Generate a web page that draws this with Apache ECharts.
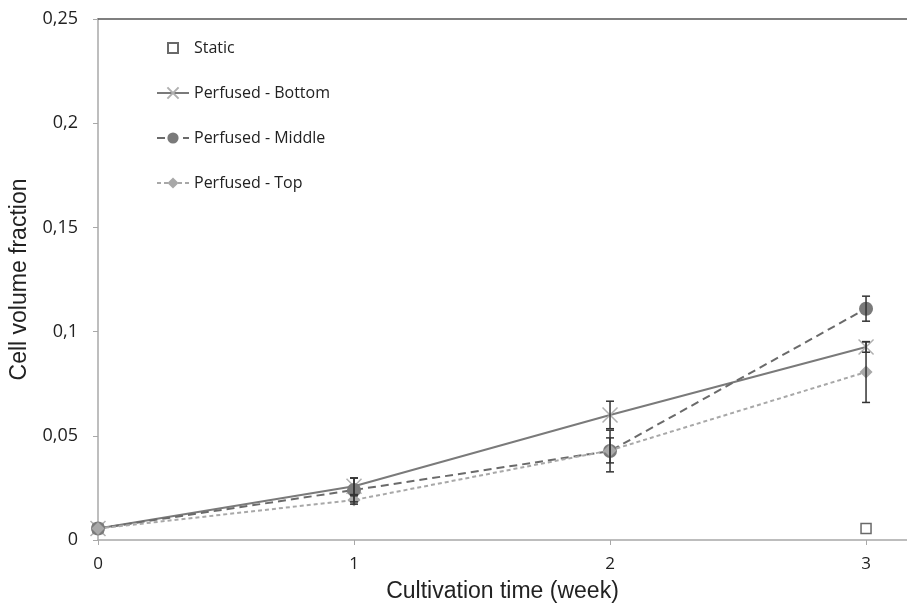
<!DOCTYPE html>
<html>
<head>
<meta charset="utf-8">
<script src="https://cdn.jsdelivr.net/npm/echarts@6/dist/echarts.min.js"></script>
<style>
  html, body { margin: 0; padding: 0; background: #fff; }
  #main { width: 907px; height: 604px; }
</style>
</head>
<body>
<div id="main"></div>
<script>
var weeks = [0, 1, 2, 3];
var staticWeeks = [0, 3];
var staticVals = [0.0055, 0.0055];
var bottomVals = [0.0055, 0.0258, 0.0600, 0.0926];
var bottomErr = [0, 0.004, 0.0066, 0.0025];
var middleVals = [0.0055, 0.0240, 0.0427, 0.1110];
var middleErr = [0, 0.0057, 0.0100, 0.0060];
var topVals = [0.0055, 0.0192, 0.0430, 0.0806];
var topErr = [0, 0.002, 0.0060, 0.0146];

function pairs(xs, ys) {
  return xs.map(function (x, i) { return [x, ys[i]]; });
}
function errData(vals, errs) {
  var out = [];
  for (var i = 0; i < vals.length; i++) {
    if (errs[i] > 0) out.push([weeks[i], vals[i] - errs[i], vals[i] + errs[i]]);
  }
  return out;
}
var allErr = errData(bottomVals, bottomErr)
  .concat(errData(middleVals, middleErr))
  .concat(errData(topVals, topErr));

function comma(v) {
  return String(v).replace('.', ',');
}

var chartDom = document.getElementById('main');
var myChart = echarts.init(chartDom);
var option;

// square icon centred in a 32x14 box (moves only widen the bounds)
var staticIcon = 'path://M0,0M32,0M32,14M0,14M11,2L21,2L21,12L11,12Z';

option = {
  backgroundColor: '#fff',
  animation: false,
  textStyle: { fontFamily: 'Open Sans, DejaVu Sans, sans-serif' },
  grid: { left: 98, right: 0, top: 19, bottom: 64, containLabel: false, outerBoundsMode: 'none' },
  legend: {
    orient: 'vertical',
    left: 151,
    top: 35,
    itemWidth: 32,
    itemHeight: 14,
    itemGap: 29,
    textStyle: { fontSize: 16, color: '#222', fontFamily: 'Open Sans, sans-serif' },
    data: [
      { name: 'Static', icon: staticIcon },
      'Perfused - Bottom',
      'Perfused - Middle',
      'Perfused - Top'
    ]
  },
  xAxis: [{
    type: 'value',
    min: 0,
    max: 3.16,
    interval: 1,
    name: 'Cultivation time (week)',
    nameLocation: 'middle',
    nameGap: 40,
    nameTextStyle: { fontSize: 23, color: '#222', fontFamily: 'Liberation Sans, Arial, sans-serif' },
    axisLine: { lineStyle: { color: '#a8a8a8', width: 1.5 } },
    axisTick: { show: true, length: 5, lineStyle: { color: '#a8a8a8' } },
    axisLabel: {
      fontSize: 17, color: '#222', margin: 16,
      formatter: function (v) { return Math.abs(v - Math.round(v)) < 1e-6 ? String(Math.round(v)) : ''; }
    },
    splitLine: { show: false }
  }, {
    type: 'value',
    position: 'top',
    min: 0,
    max: 3.16,
    axisLine: { show: true, lineStyle: { color: '#555', width: 1.5 } },
    axisTick: { show: false },
    axisLabel: { show: false },
    splitLine: { show: false }
  }],
  yAxis: {
    type: 'value',
    min: 0,
    max: 0.25,
    interval: 0.05,
    name: 'Cell volume fraction',
    nameLocation: 'middle',
    nameGap: 66,
    nameTextStyle: { fontSize: 23, color: '#222', fontFamily: 'Liberation Sans, Arial, sans-serif' },
    axisLine: { show: true, lineStyle: { color: '#a8a8a8', width: 1.5 } },
    axisTick: { show: true, length: 5, lineStyle: { color: '#a8a8a8' } },
    axisLabel: { fontSize: 18, color: '#222', margin: 20, formatter: function (v) { return comma(+v.toFixed(2)); } },
    splitLine: { show: false }
  },
  series: [
    {
      name: 'Static',
      type: 'scatter',
      symbol: 'rect',
      symbolSize: 10,
      itemStyle: { color: '#fff', borderColor: '#444', borderWidth: 1.5 },
      data: pairs(staticWeeks, staticVals),
      z: 3
    },
    {
      name: 'Perfused - Bottom',
      type: 'line',
      symbol: 'path://M0,0L10,10M10,0L0,10',
      symbolSize: 15,
      lineStyle: { color: '#7a7a7a', width: 2 },
      itemStyle: { color: '#b0b0b0', borderColor: '#b0b0b0', borderWidth: 1.5 },
      data: pairs(weeks, bottomVals),
      z: 4
    },
    {
      name: 'Perfused - Middle',
      type: 'line',
      symbol: 'circle',
      symbolSize: 14,
      lineStyle: { color: '#6a6a6a', width: 2, type: [8, 5] },
      itemStyle: { color: '#7a7a7a' },
      data: pairs(weeks, middleVals),
      z: 5
    },
    {
      name: 'Perfused - Top',
      type: 'line',
      symbol: 'diamond',
      symbolSize: 13,
      lineStyle: { color: '#a8a8a8', width: 2, type: [4, 3] },
      itemStyle: { color: '#a8a8a8' },
      data: pairs(weeks, topVals),
      z: 6
    },
    {
      name: 'err',
      type: 'custom',
      z: 7,
      data: allErr,
      renderItem: function (params, api) {
        var lo = api.coord([api.value(0), api.value(1)]);
        var hi = api.coord([api.value(0), api.value(2)]);
        var w = 4;
        var st = { stroke: '#333', lineWidth: 1.5 };
        return {
          type: 'group',
          children: [
            { type: 'line', shape: { x1: lo[0], y1: lo[1], x2: hi[0], y2: hi[1] }, style: st },
            { type: 'line', shape: { x1: lo[0] - w, y1: lo[1], x2: lo[0] + w, y2: lo[1] }, style: st },
            { type: 'line', shape: { x1: hi[0] - w, y1: hi[1], x2: hi[0] + w, y2: hi[1] }, style: st }
          ]
        };
      }
    }
  ]
};

option && myChart.setOption(option);
</script>
</body>
</html>
